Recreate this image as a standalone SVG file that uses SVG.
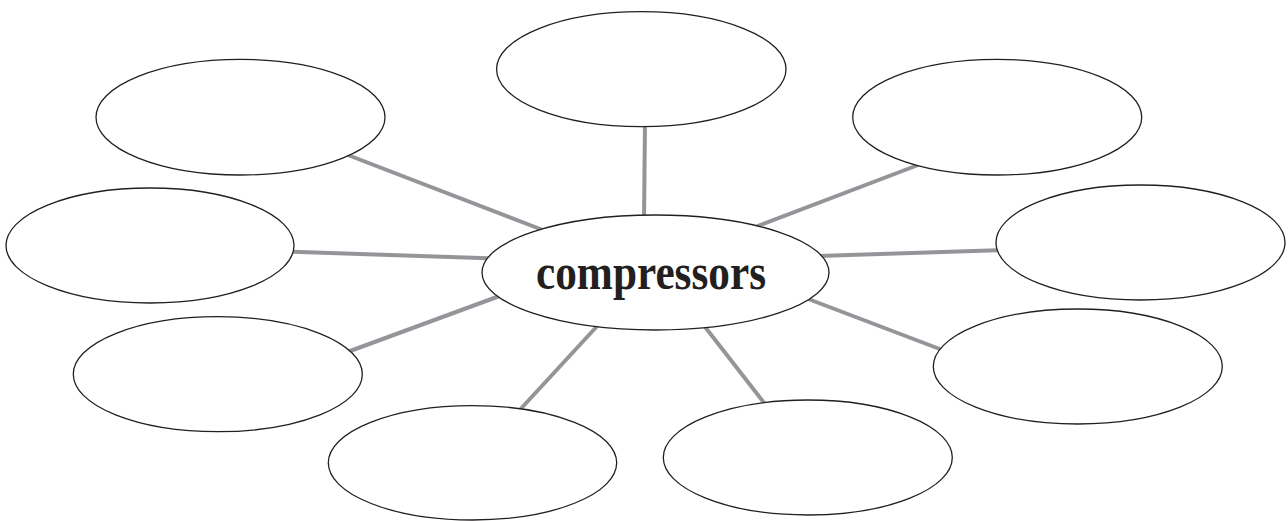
<svg xmlns="http://www.w3.org/2000/svg" width="1288" height="521" viewBox="0 0 1288 521">
<style>
.c{stroke:#939598;stroke-width:4;fill:none}
.n{fill:#fff;stroke:#231f20;stroke-width:1.3}
.t{font-family:"Liberation Serif","Times New Roman",serif;font-weight:bold;font-size:50px;fill:#231f20}
</style>
<rect width="1288" height="521" fill="#fff"/>
<g id="connectors">
<line class="c" x1="645" y1="120" x2="644" y2="222"/>
<line class="c" x1="340" y1="152" x2="548" y2="232"/>
<line class="c" x1="285" y1="251.5" x2="495" y2="258.5"/>
<line class="c" x1="342" y1="354" x2="505" y2="294"/>
<line class="c" x1="750" y1="229" x2="926" y2="162"/>
<line class="c" x1="818" y1="256" x2="1005" y2="250"/>
<line class="c" x1="803" y1="297" x2="945" y2="351"/>
<line class="c" x1="600" y1="323" x2="516" y2="414"/>
<line class="c" x1="702" y1="323" x2="768" y2="408"/>
</g>
<g id="node-center"><ellipse class="n" cx="655.5" cy="272.5" rx="173.5" ry="57.5"/><text class="t" x="536" y="289" textLength="230" lengthAdjust="spacingAndGlyphs">compressors</text></g>
<g id="node-top"><ellipse class="n" cx="641.3" cy="69.2" rx="144.7" ry="57.5"/></g>
<g id="node-top-left"><ellipse class="n" cx="240.5" cy="117.2" rx="144.5" ry="57.8"/></g>
<g id="node-top-right"><ellipse class="n" cx="997.2" cy="117.2" rx="144.5" ry="57.8"/></g>
<g id="node-left"><ellipse class="n" cx="150" cy="245.5" rx="144" ry="57.5"/></g>
<g id="node-right"><ellipse class="n" cx="1140.5" cy="242.5" rx="144.5" ry="57.5"/></g>
<g id="node-lower-left"><ellipse class="n" cx="217.8" cy="374.2" rx="144.5" ry="57.5"/></g>
<g id="node-lower-right"><ellipse class="n" cx="1077.8" cy="366.5" rx="144.5" ry="57.5"/></g>
<g id="node-bottom-left"><ellipse class="n" cx="472.5" cy="462.8" rx="144.2" ry="57.2"/></g>
<g id="node-bottom-right"><ellipse class="n" cx="807.8" cy="457.5" rx="144.5" ry="57.5"/></g>
</svg>
